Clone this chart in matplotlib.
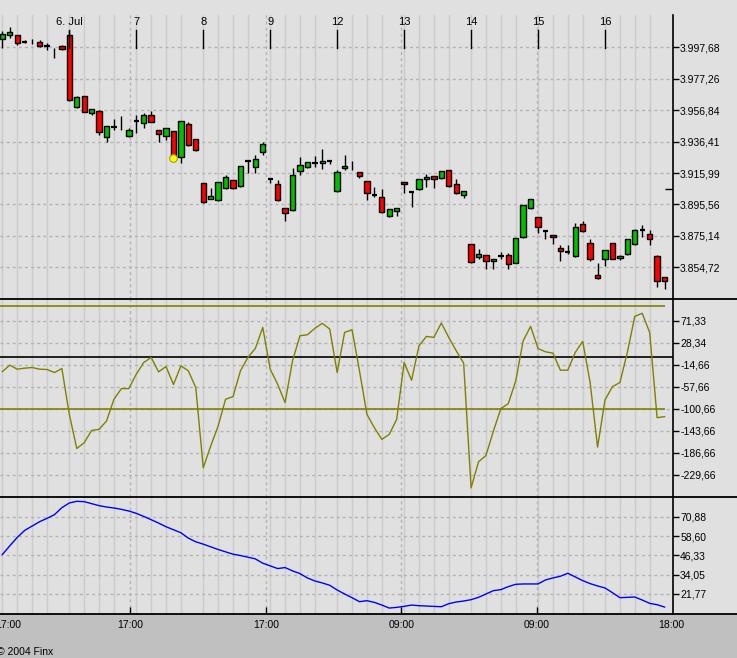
import numpy as np
import matplotlib.pyplot as plt
from matplotlib.lines import Line2D
from matplotlib.patches import Rectangle
from matplotlib.transforms import blended_transform_factory

plt.rcParams['font.family'] = ['Liberation Sans', 'DejaVu Sans']

# hourly candles, index 0 = 6. Jul 09:00, 9 bars per trading day
first_bar = -9
opens = [4002.9, 4005.5, 4005.7, 4001.1, 4001.8, 4000.9, 3998.5, 3995.9, 3998.3,
         4005.7, 3959.1, 3965.8, 3954.8, 3956.3, 3939.6, 3946.1, 3948.5, 3940.2,
         3949.8, 3948.7, 3953.7, 3943.8, 3940.2, 3943.1, 3926.6, 3947.7, 3937.9,
         3909.3, 3899.3, 3898.3, 3906.5, 3911.3, 3907.4, 3924.0, 3920.1, 3929.9,
         3912.1, 3908.7, 3893.1, 3892.0, 3917.5, 3920.1, 3922.7, 3922.3, 3924.0,
         3904.5, 3919.1, 3921.2, 3916.5, 3910.6, 3901.5, 3900.2, 3888.3, 3891.6,
         3910.0, 3904.0, 3905.4, 3911.9, 3913.9, 3912.6, 3917.8, 3908.7, 3901.5,
         3869.7, 3861.2, 3862.7, 3858.6, 3861.9, 3862.5, 3857.7, 3874.6, 3893.1,
         3887.2, 3878.5, 3875.5, 3867.1, 3864.5, 3862.3, 3882.7, 3870.3, 3849.5,
         3859.9, 3870.3, 3860.6, 3863.2, 3870.1, 3878.8, 3876.2, 3862.1, 3848.4]
highs = [4008.3, 4011.1, 4006.0, 4002.4, 4003.1, 4002.4, 4000.3, 3997.4, 3999.0,
         4008.9, 3965.8, 3966.0, 3957.6, 3956.9, 3946.6, 3951.1, 3953.0, 3945.1,
         3953.7, 3955.2, 3956.3, 3944.0, 3945.3, 3943.3, 3949.8, 3949.0, 3938.1,
         3909.5, 3906.1, 3910.2, 3914.5, 3911.5, 3920.6, 3924.2, 3927.5, 3936.0,
         3912.6, 3911.5, 3893.3, 3919.1, 3926.2, 3923.2, 3927.1, 3931.6, 3924.2,
         3918.0, 3927.7, 3923.8, 3916.7, 3910.8, 3906.8, 3905.6, 3892.6, 3893.3,
         3910.2, 3904.2, 3912.1, 3915.4, 3914.1, 3917.3, 3918.0, 3911.9, 3904.3,
         3869.9, 3866.6, 3862.9, 3860.3, 3864.5, 3864.2, 3873.8, 3895.2, 3899.1,
         3887.4, 3878.7, 3875.7, 3869.2, 3869.2, 3883.7, 3884.8, 3873.1, 3857.3,
         3866.0, 3870.5, 3863.0, 3873.3, 3879.8, 3882.2, 3879.0, 3862.7, 3848.6]
lows = [3997.0, 4003.9, 3999.4, 4000.2, 3999.8, 3998.1, 3995.9, 3990.9, 3995.7,
        3962.8, 3958.4, 3955.6, 3953.9, 3940.9, 3936.3, 3944.0, 3944.0, 3939.6,
        3942.2, 3945.1, 3949.0, 3936.0, 3937.5, 3925.6, 3922.7, 3933.8, 3930.5,
        3896.5, 3898.9, 3897.6, 3905.6, 3905.8, 3906.7, 3916.2, 3916.2, 3927.9,
        3909.3, 3898.0, 3885.0, 3891.5, 3914.9, 3919.1, 3920.1, 3918.8, 3921.9,
        3903.9, 3918.3, 3918.0, 3913.1, 3898.8, 3900.6, 3889.8, 3887.6, 3888.3,
        3903.2, 3894.1, 3904.8, 3907.1, 3906.5, 3911.9, 3907.1, 3902.2, 3900.0,
        3857.7, 3860.3, 3853.8, 3853.8, 3860.3, 3853.5, 3857.3, 3874.0, 3892.4,
        3876.8, 3873.3, 3870.1, 3859.0, 3863.4, 3861.6, 3877.7, 3859.0, 3847.0,
        3855.8, 3859.9, 3859.7, 3862.5, 3869.4, 3874.6, 3869.2, 3842.1, 3840.8]
closes = [4006.3, 4007.4, 4000.3, 4001.1, 4001.8, 3998.7, 3998.5, 3995.9, 3996.4,
          3963.4, 3965.2, 3955.8, 3957.4, 3942.5, 3946.4, 3946.1, 3948.5, 3943.8,
          3949.8, 3953.7, 3949.3, 3941.2, 3945.1, 3926.6, 3949.6, 3934.4, 3931.2,
          3897.4, 3900.9, 3910.0, 3913.2, 3906.5, 3920.4, 3924.0, 3924.9, 3934.7,
          3912.1, 3898.5, 3889.8, 3914.7, 3921.2, 3923.0, 3922.7, 3923.8, 3924.0,
          3916.5, 3920.4, 3921.2, 3914.4, 3902.8, 3901.5, 3890.5, 3892.4, 3893.1,
          3908.7, 3904.0, 3911.9, 3913.2, 3911.9, 3917.1, 3907.8, 3902.8, 3904.1,
          3858.4, 3863.4, 3858.6, 3860.1, 3861.9, 3856.9, 3873.6, 3895.0, 3898.9,
          3880.7, 3878.5, 3874.2, 3865.5, 3864.5, 3880.7, 3878.1, 3859.9, 3847.6,
          3865.8, 3860.3, 3862.1, 3873.1, 3879.0, 3878.8, 3872.9, 3846.0, 3846.0]
plain_wicks = [-5, -2, 7, 38]   # no visible open/close mark
marked_low = 14                 # yellow dot
last_marker = 3905.6

cci = [-27.5, -15.0, -22.9, -20.9, -19.6, -22.9, -23.5, -29.4, -21.6,
       -111.1, -177.8, -166.7, -142.5, -140.5, -124.2, -81.7, -60.8, -60.8,
       -32.7, -9.8, 0.0, -28.1, -17.6, -52.9, -16.3, -26.1, -58.8,
       -215.7, -173.2, -134.0, -81.7, -76.5, -26.1, 0.0, 17.6, 58.8,
       -22.9, -52.3, -88.2, -6.5, 42.5, 44.4, 56.9, 66.7, 55.6,
       -29.4, 49.0, 54.2, -26.1, -111.1, -137.3, -160.1, -150.3, -120.9,
       -9.8, -44.4, 22.9, 41.2, 39.2, 67.3, 39.2, 13.1, -11.1,
       -254.9, -203.9, -191.5, -143.8, -100.0, -90.2, -45.8, 32.7, 60.8,
       17.6, 11.1, 8.5, -24.8, -24.8, 9.8, 31.4, -49.0, -175.2,
       -83.0, -56.9, -49.0, 9.8, 80.4, 86.3, 49.0, -117.6, -115.7]
cci_bands = [100, -100]

adx = [46.86, 52.38, 57.70, 62.16, 64.93, 67.69, 69.82, 72.16, 76.62,
       79.60, 80.66, 80.45, 79.17, 77.90, 77.05, 76.41, 75.56, 74.49,
       73.01, 71.09, 68.97, 66.84, 64.50, 62.59, 60.68, 57.27, 54.93,
       53.45, 51.75, 50.05, 48.56, 47.07, 46.22, 45.16, 44.09, 41.33,
       39.63, 37.93, 38.57, 36.44, 34.74, 31.97, 30.06, 28.79, 27.30,
       24.32, 21.77, 19.43, 16.88, 17.52, 16.45, 14.75, 12.84, 13.27,
       13.90, 14.75, 14.33, 14.12, 13.90, 13.69, 15.61, 16.67, 17.31,
       18.16, 19.64, 21.77, 23.90, 24.53, 26.45, 27.93, 28.15, 28.15,
       28.15, 30.70, 31.97, 33.04, 34.95, 32.61, 30.27, 28.36, 26.87,
       25.60, 22.62, 19.43, 19.64, 19.86, 17.94, 15.82, 14.97, 13.48]

day_starts = [-9, 0, 9, 18, 27, 36, 45, 54, 63, 72]
day_labels = ['6. Jul', '7', '8', '9', '12', '13', '14', '15', '16']
time_pos = [-8.15, 8.2, 26.4, 44.6, 62.8, 80.9]
time_labels = ['17:00', '17:00', '17:00', '09:00', '09:00', '18:00']

price_ticks = [3997.68, 3977.26, 3956.84, 3936.41, 3915.99, 3895.56, 3875.14, 3854.72]
cci_ticks = [71.33, 28.34, -14.66, -57.66, -100.66, -143.66, -186.66, -229.66]
adx_ticks = [70.88, 58.60, 46.33, 34.05, 21.77]


def de_fmt(v):
    return f"{v:,.2f}".replace(',', 'X').replace('.', ',').replace('X', '.')


BG = '#e0e0e0'
W, H = 737, 658
fig = plt.figure(figsize=(W / 100, H / 100), dpi=100, facecolor=BG)
fig.add_artist(Rectangle((0, 0), 1, 44 / H, transform=fig.transFigure,
                         facecolor='#c0c0c0', edgecolor='none', zorder=-10))

right = 672.5
x_lo, x_hi = -9.315, 81.07


def panel(top, bottom, ylim, ticks):
    ax = fig.add_axes([0, (H - bottom) / H, right / W, (bottom - top) / H])
    ax.set_facecolor(BG)
    ax.set_xlim(x_lo, x_hi)
    ax.set_ylim(*ylim)
    for s in ['left', 'top', 'bottom']:
        ax.spines[s].set_visible(False)
    ax.spines['right'].set_linewidth(1.2)
    ax.yaxis.tick_right()
    ax.set_yticks(ticks, [de_fmt(t) for t in ticks])
    ax.tick_params(axis='y', length=4, width=1, pad=1.5, labelsize=7.5)
    ax.tick_params(axis='x', length=0, labelbottom=False)
    for d in day_starts:
        for k in (0, 2, 4, 6):
            ax.axvline(d + k, color='#cbcbcb', lw=1, zorder=0)
    for p in time_pos[1:-1]:
        ax.axvline(p, color='#b4b4b4', lw=1, ls=(0, (2.2, 2.2)), zorder=0)
    for t in ticks:
        ax.axhline(t, color='#b4b4b4', lw=1, ls=(0, (2.2, 2.2)), zorder=0)
    return ax


ax1 = panel(15, 299, (3834.15, 4018.7), price_ticks)
ax2 = panel(299, 497, (-272.7, 114.3), cci_ticks)
ax3 = panel(497, 614, (9.06, 83.4), adx_ticks)

# candles
idx = np.arange(first_bar, first_bar + len(opens))
o, h, l, c = map(np.array, (opens, highs, lows, closes))
ax1.vlines(idx, l, h, color='black', lw=1, zorder=2)
body = np.abs(c - o)
up = c > o
down = c < o
ax1.bar(idx[up], body[up], bottom=o[up], width=0.72, color='#00c000',
        edgecolor='black', linewidth=1, zorder=3)
ax1.bar(idx[down], body[down], bottom=c[down], width=0.72, color='#ff0000',
        edgecolor='black', linewidth=1, zorder=3)
flat = (c == o) & ~np.isin(idx, plain_wicks)
ax1.hlines(c[flat], idx[flat] - 0.36, idx[flat] + 0.36, color='black', lw=1.6, zorder=3)
ax1.plot([marked_low], [lows[marked_low - first_bar]], 'o', ms=5.5,
         mfc='#ffff00', mec='#a0a000', mew=0.8, zorder=4)
ax1.hlines(last_marker, 80.1, x_hi, color='black', lw=1, zorder=4)

tr = blended_transform_factory(ax1.transData, ax1.transAxes)
for d, lab in zip(day_starts[1:], day_labels):
    ax1.plot([d, d], [0.947, 0.884], transform=tr, color='black', lw=1, zorder=4)
    ax1.text(d, 0.975, lab, transform=tr, ha='center', va='center', fontsize=8)

# CCI
ax2.plot(idx, cci, color='#808000', lw=1, zorder=3)
ax2.hlines(cci_bands, x_lo, idx[-1], color='#808000', lw=1.2, zorder=2)
ax2.axhline(0, color='black', lw=1.2, zorder=2)

# lower line
ax3.plot(idx, adx, color='#0000ff', lw=1, zorder=3)
ax3.set_xticks(time_pos[1:-1])
ax3.tick_params(axis='x', direction='in', length=5, width=1, color='black')
tr3 = blended_transform_factory(ax3.transData, ax3.transAxes)
for p, lab in zip(time_pos, time_labels):
    ax3.text(p, -0.0915, lab, transform=tr3, ha='center', va='center',
             fontsize=7.5, clip_on=False)

for y in (299, 497, 614):
    fig.add_artist(Line2D([0, 1], [(H - y) / H] * 2, transform=fig.transFigure,
                          color='black', lw=1.3))

fig.text(-3 / W, 1 - 652 / H, '\u00a9 2004 Finx', fontsize=7.5, ha='left', va='center')

fig.savefig('out.png', dpi=100, facecolor=BG)
